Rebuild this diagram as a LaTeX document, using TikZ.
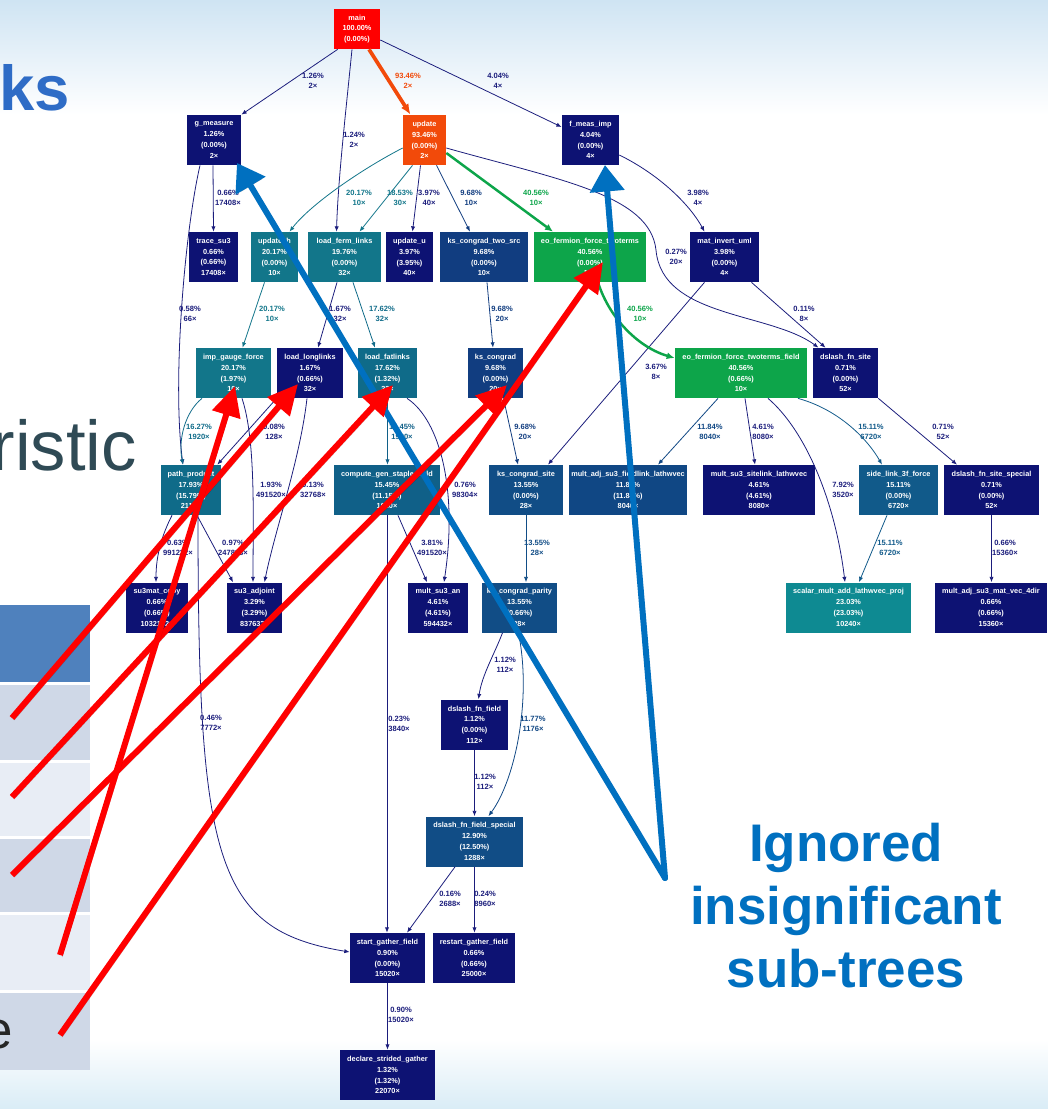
\documentclass[tikz,border=0pt]{standalone}
\usepackage{fontspec}
\setmainfont{Liberation Sans}
\usetikzlibrary{arrows.meta,calc}

% palette
\definecolor{navyfn}{HTML}{0D1273}
\definecolor{navyedge}{HTML}{1B1D7C}
\definecolor{blueten}{HTML}{113D80}
\definecolor{bluetwelve}{HTML}{104784}
\definecolor{bluethirteen}{HTML}{114D86}
\definecolor{bluefifteen}{HTML}{115A8A}
\definecolor{tealfifteen}{HTML}{106088}
\definecolor{tealeighteen}{HTML}{0F6B89}
\definecolor{tealtwenty}{HTML}{12768A}
\definecolor{tealtwentythree}{HTML}{0E8A92}
\definecolor{greenfn}{HTML}{0DA54A}
\definecolor{orangefn}{HTML}{F24A0A}
\definecolor{redfn}{HTML}{FF0000}
\definecolor{callout}{HTML}{0070C0}
\definecolor{marker}{HTML}{FF0000}
\definecolor{skytop}{HTML}{CFE4F3}
\definecolor{skybot}{HTML}{D9ECF6}
\definecolor{hdr}{HTML}{4F81BD}
\definecolor{rowa}{HTML}{CFD8E7}
\definecolor{rowb}{HTML}{E8EDF5}
\definecolor{titleblue}{HTML}{2E6CC6}
\definecolor{slate}{HTML}{2F4A55}

\tikzset{
  fn/.style={fill=navyfn, text=white, font=\fontsize{4.15}{6.1}\selectfont\bfseries,
    align=center, inner sep=0pt, minimum height=50*0.567pt},
  w/.style={minimum width=#1*0.567pt},
  e/.style={navyedge, line width=0.45pt, -{Latex[length=3pt,width=2.4pt]}},
  lbl/.style={navyedge, font=\fontsize{4.3}{5.7}\selectfont\bfseries, align=center, inner sep=0pt},
  drop/.style={preaction={draw=black, opacity=0.22, transform canvas={shift={(1.2pt,-1.2pt)}}}},
  redarrow/.style={marker, line width=3.4pt, -{Triangle[length=17pt,width=16pt]}, drop},
  bluearrow/.style={callout, line width=3.4pt, line cap=round, -{Triangle[length=15pt,width=19pt]}, drop},
}

\begin{document}
\begin{tikzpicture}[x=0.567pt, y=-0.567pt]
\useasboundingbox (0,0) rectangle (1048,1109);

% backdrop
\fill[white] (0,0) rectangle (1048,1109);
\shade[top color=skytop, bottom color=white] (0,0) rectangle (1048,115);
\shade[top color=white, bottom color=skybot] (0,1040) rectangle (1048,1109);

% slide fragments on the left
\node[anchor=base east, inner sep=0pt, text=titleblue, font=\fontsize{36}{36}\selectfont\bfseries] (titlefrag) at (70,110) {ks};
\node[anchor=base east, inner sep=0pt, text=slate, font=\fontsize{40}{40}\selectfont] (bodyfrag) at (137,470) {ristic};
\fill[hdr] (0,605) rectangle (90,682);
\fill[rowa] (0,685) rectangle (90,760);
\fill[rowb] (0,763) rectangle (90,836);
\fill[rowa] (0,839) rectangle (90,912);
\fill[rowb] (0,915) rectangle (90,990);
\fill[rowa] (0,993) rectangle (90,1070);
\node[anchor=base east, inner sep=0pt, text=black!85, font=\fontsize{30}{30}\selectfont] (rowfrag) at (13,1048) {e};

% call-graph nodes
\node[fn, fill=redfn, w=46, minimum height=40*0.567pt] (main) at (357,29) {main\\100.00\%\\(0.00\%)};
\node[fn, w=54] (g_measure) at (214,140) {g\_measure\\1.26\%\\(0.00\%)\\2×};
\node[fn, fill=orangefn, w=43] (update) at (424.5,140) {update\\93.46\%\\(0.00\%)\\2×};
\node[fn, w=57] (f_meas_imp) at (590.5,140) {f\_meas\_imp\\4.04\%\\(0.00\%)\\4×};

\node[fn, w=49] (trace_su3) at (213.5,257) {trace\_su3\\0.66\%\\(0.66\%)\\17408×};
\node[fn, fill=tealtwenty, w=47] (update_h) at (274.5,257) {update\_h\\20.17\%\\(0.00\%)\\10×};
\node[fn, fill=tealtwenty, w=73] (load_ferm_links) at (344.5,257) {load\_ferm\_links\\19.76\%\\(0.00\%)\\32×};
\node[fn, w=47] (update_u) at (409.5,257) {update\_u\\3.97\%\\(3.95\%)\\40×};
\node[fn, fill=blueten, w=88] (ks_congrad_two_src) at (484,257) {ks\_congrad\_two\_src\\9.68\%\\(0.00\%)\\10×};
\node[fn, fill=greenfn, w=112] (eo_twoterms) at (590,257) {eo\_fermion\_force\_twoterms\\40.56\%\\(0.00\%)\\10×};
\node[fn, w=69] (mat_invert_uml) at (724.5,257) {mat\_invert\_uml\\3.98\%\\(0.00\%)\\4×};

\node[fn, fill=tealtwenty, w=75] (imp_gauge_force) at (233.5,373) {imp\_gauge\_force\\20.17\%\\(1.97\%)\\10×};
\node[fn, w=66] (load_longlinks) at (310,373) {load\_longlinks\\1.67\%\\(0.66\%)\\32×};
\node[fn, fill=tealeighteen, w=59] (load_fatlinks) at (387.5,373) {load\_fatlinks\\17.62\%\\(1.32\%)\\32×};
\node[fn, fill=blueten, w=55] (ks_congrad) at (495.5,373) {ks\_congrad\\9.68\%\\(0.00\%)\\20×};
\node[fn, fill=greenfn, w=132] (eo_field) at (741,373) {eo\_fermion\_force\_twoterms\_field\\40.56\%\\(0.66\%)\\10×};
\node[fn, w=65] (dslash_fn_site) at (845.5,373) {dslash\_fn\_site\\0.71\%\\(0.00\%)\\52×};

\node[fn, fill=tealeighteen, w=60] (path_product) at (191,490) {path\_product\\17.93\%\\(15.79\%)\\2114×};
\node[fn, fill=tealfifteen, w=106] (compute_gen) at (387,490) {compute\_gen\_staple\_field\\15.45\%\\(11.15\%)\\1920×};
\node[fn, fill=bluethirteen, w=74] (ks_congrad_site) at (526,490) {ks\_congrad\_site\\13.55\%\\(0.00\%)\\28×};
\node[fn, fill=bluetwelve, w=118] (fieldlink) at (628,490) {mult\_adj\_su3\_fieldlink\_lathwvec\\11.84\%\\(11.84\%)\\8040×};
\node[fn, w=112] (sitelink) at (759,490) {mult\_su3\_sitelink\_lathwvec\\4.61\%\\(4.61\%)\\8080×};
\node[fn, fill=bluefifteen, w=79] (side_link) at (898.5,490) {side\_link\_3f\_force\\15.11\%\\(0.00\%)\\6720×};
\node[fn, w=95] (site_special) at (991.5,490) {dslash\_fn\_site\_special\\0.71\%\\(0.00\%)\\52×};

\node[fn, w=62] (su3mat_copy) at (157,607.5) {su3mat\_copy\\0.66\%\\(0.66\%)\\1032192×};
\node[fn, w=55] (su3_adjoint) at (254.5,607.5) {su3\_adjoint\\3.29\%\\(3.29\%)\\837632×};
\node[fn, w=60] (mult_su3_an) at (438,607.5) {mult\_su3\_an\\4.61\%\\(4.61\%)\\594432×};
\node[fn, fill=bluethirteen, w=75] (parity) at (519.5,607.5) {ks\_congrad\_parity\\13.55\%\\(0.66\%)\\28×};
\node[fn, fill=tealtwentythree, w=125] (scalar) at (848.5,607.5) {scalar\_mult\_add\_lathwvec\_proj\\23.03\%\\(23.03\%)\\10240×};
\node[fn, w=112] (mult4dir) at (991,607.5) {mult\_adj\_su3\_mat\_vec\_4dir\\0.66\%\\(0.66\%)\\15360×};

\node[fn, w=67] (dslash_fn_field) at (474.5,724.5) {dslash\_fn\_field\\1.12\%\\(0.00\%)\\112×};
\node[fn, fill=bluethirteen, w=97] (field_special) at (474.5,841.5) {dslash\_fn\_field\_special\\12.90\%\\(12.50\%)\\1288×};
\node[fn, w=75] (start_gather) at (387.5,958) {start\_gather\_field\\0.90\%\\(0.00\%)\\15020×};
\node[fn, w=82] (restart_gather) at (474,958) {restart\_gather\_field\\0.66\%\\(0.66\%)\\25000×};
\node[fn, w=95] (declare) at (387.5,1075) {declare\_strided\_gather\\1.32\%\\(1.32\%)\\22070×};

% call edges
\draw[e] ($(main.south west)+(4,0)$) -- (g_measure.north east);
\draw[e] ($(main.south)+(-5,0)$) .. controls (346,110) and (338,180) .. ($(load_ferm_links.north)+(-8,0)$);
\draw[e, orangefn, line width=2.1pt, -{Latex[length=6pt,width=5pt]}] ($(main.south)+(12,0)$) -- ($(update.north)+(-14,0)$);
\draw[e] ($(main.east)+(0,11)$) -- ($(f_meas_imp.west)+(0,-13)$);

\draw[e] ($(g_measure.south)+(-1,0)$) -- (trace_su3.north);
\draw[e] ($(g_measure.south)+(-14,0)$) .. controls (185,230) and (172,380) .. ($(path_product.north)+(-8,0)$);
\draw[e, tealtwenty] ($(update.west)+(0,8)$) .. controls (360,170) and (310,205) .. ($(update_h.north)+(15,0)$);
\draw[e, tealtwenty] ($(update.south)+(-12,0)$) -- ($(load_ferm_links.north)+(15,0)$);
\draw[e] ($(update.south)+(-4,0)$) -- ($(update_u.north)+(3,0)$);
\draw[e, blueten] ($(update.south)+(12,0)$) -- ($(ks_congrad_two_src.north)+(-14,0)$);
\draw[e, greenfn, line width=1.4pt, -{Latex[length=4.5pt,width=4pt]}] ($(update.east)+(0,13)$) -- ($(eo_twoterms.north)+(-37,0)$);
\draw[e] ($(update.east)+(0,8)$) .. controls (560,180) and (650,195) .. (656,250) .. controls (662,318) and (770,312) .. ($(dslash_fn_site.north)+(-27,0)$);
\draw[e] ($(f_meas_imp.east)+(0,15)$) .. controls (660,175) and (690,205) .. ($(mat_invert_uml.north)+(-20,0)$);

\draw[e] ($(mat_invert_uml.south)+(-20,0)$) -- ($(ks_congrad_site.north)+(22,0)$);
\draw[e] ($(mat_invert_uml.south)+(27,0)$) -- ($(dslash_fn_site.north)+(-20,0)$);
\draw[e, greenfn, line width=1.4pt, -{Latex[length=4.5pt,width=4pt]}] ($(eo_twoterms.south)+(8,0)$) .. controls (610,320) and (640,348) .. ($(eo_field.west)+(0,-15)$);
\draw[e, tealtwenty] ($(update_h.south)+(-10,0)$) -- ($(imp_gauge_force.north)+(9,0)$);
\draw[e] ($(load_ferm_links.south)+(-7.5,0)$) -- ($(load_longlinks.north)+(8,0)$);
\draw[e, tealeighteen] ($(load_ferm_links.south)+(8.5,0)$) -- ($(load_fatlinks.north)+(-12.5,0)$);
\draw[e, blueten] ($(ks_congrad_two_src.south)+(3,0)$) -- ($(ks_congrad.north)+(-2.5,0)$);

\draw[e, tealeighteen] ($(imp_gauge_force.south)+(-31.5,0)$) .. controls (185,412) and (178,440) .. ($(path_product.north)+(-8,0)$);
\draw[e] (load_longlinks.south west) -- ($(path_product.north east)+(-4,0)$);
\draw[e] ($(imp_gauge_force.south)+(8.5,0)$) .. controls (256,440) and (253,520) .. ($(su3_adjoint.north)+(-1.5,0)$);
\draw[e] ($(load_longlinks.south)+(-3,0)$) .. controls (300,460) and (275,530) .. ($(su3_adjoint.north)+(10,0)$);
\draw[e, tealfifteen] (load_fatlinks.south) -- (load_fatlinks.south |- compute_gen.north);
\draw[e] ($(load_fatlinks.south)+(19.5,0)$) .. controls (440,420) and (458,490) .. ($(mult_su3_an.north)+(6,0)$);
\draw[e, blueten] ($(ks_congrad.south)+(8,0)$) -- ($(ks_congrad_site.north)+(-8,0)$);
\draw[e, bluetwelve] ($(eo_field.south)+(-23,0)$) -- ($(fieldlink.north)+(30,0)$);
\draw[e] ($(eo_field.south)+(4,0)$) -- ($(sitelink.north)+(-4,0)$);
\draw[e] ($(eo_field.south)+(27,0)$) .. controls (805,430) and (835,500) .. ($(scalar.north)+(-3.5,0)$);
\draw[e, bluefifteen] ($(eo_field.south)+(57,0)$) .. controls (840,410) and (868,440) .. ($(side_link.north)+(-16.5,0)$);
\draw[e] (dslash_fn_site.south east) -- ($(site_special.north)+(-34.5,0)$);

\draw[e] ($(path_product.south)+(-19,0)$) .. controls (162,535) and (156,555) .. ($(su3mat_copy.north)+(-1,0)$);
\draw[e] ($(path_product.south)+(6,0)$) -- ($(su3_adjoint.north)+(-21.5,0)$);
\draw[e] ($(path_product.south)+(7,0)$) .. controls (198,860) and (215,930) .. ($(start_gather.west)+(0,-6)$);
\draw[e] ($(compute_gen.south)+(11,0)$) -- ($(mult_su3_an.north)+(-11,0)$);
\draw[e] (compute_gen.south) -- (compute_gen.south |- start_gather.north);
\draw[e, bluethirteen] (ks_congrad_site.south) -- (ks_congrad_site.south |- parity.north);
\draw[e, bluefifteen] ($(side_link.south)+(-11.5,0)$) -- ($(scalar.north)+(10.5,0)$);
\draw[e] (site_special.south) -- (site_special.south |- mult4dir.north);

\draw[e] ($(parity.south)+(-17,0)$) .. controls (494,655) and (482,675) .. ($(dslash_fn_field.north)+(4,0)$);
\draw[e, bluetwelve] ($(parity.south)+(-1,0)$) .. controls (532,700) and (515,780) .. ($(field_special.north)+(14,0)$);
\draw[e] (dslash_fn_field.south) -- (dslash_fn_field.south |- field_special.north);
\draw[e] ($(field_special.south)+(-19.5,0)$) -- ($(start_gather.north)+(19.5,0)$);
\draw[e] (field_special.south) -- (field_special.south |- restart_gather.north);
\draw[e] (start_gather.south) -- (start_gather.south |- declare.north);

% edge labels
\node[lbl] (l01) at (313,81) {1.26\%\\2×};
\node[lbl] (l02) at (354,140) {1.24\%\\2×};
\node[lbl, orangefn] (l03) at (408,81) {93.46\%\\2×};
\node[lbl] (l04) at (498,81) {4.04\%\\4×};
\node[lbl] (l05) at (228,198) {0.66\%\\17408×};
\node[lbl, tealtwenty] (l06) at (359,198) {20.17\%\\10×};
\node[lbl, tealtwenty] (l07) at (400,198) {18.53\%\\30×};
\node[lbl] (l08) at (429,198) {3.97\%\\40×};
\node[lbl, blueten] (l09) at (471,198) {9.68\%\\10×};
\node[lbl, greenfn] (l10) at (536,198) {40.56\%\\10×};
\node[lbl] (l11) at (698,198) {3.98\%\\4×};
\node[lbl] (l12) at (676,257) {0.27\%\\20×};
\node[lbl] (l13) at (190,314) {0.58\%\\66×};
\node[lbl, tealtwenty] (l14) at (272,314) {20.17\%\\10×};
\node[lbl] (l15) at (340,314) {1.67\%\\32×};
\node[lbl, tealeighteen] (l16) at (382,314) {17.62\%\\32×};
\node[lbl, blueten] (l17) at (502,314) {9.68\%\\20×};
\node[lbl, greenfn] (l18) at (640,314) {40.56\%\\10×};
\node[lbl] (l19) at (804,314) {0.11\%\\8×};
\node[lbl] (l20) at (656,372) {3.67\%\\8×};
\node[lbl, tealeighteen] (l21) at (199,432) {16.27\%\\1920×};
\node[lbl] (l22) at (274,432) {0.08\%\\128×};
\node[lbl, tealfifteen] (l23) at (402,432) {15.45\%\\1920×};
\node[lbl, blueten] (l24) at (525,432) {9.68\%\\20×};
\node[lbl, bluetwelve] (l25) at (710,432) {11.84\%\\8040×};
\node[lbl] (l26) at (763,432) {4.61\%\\8080×};
\node[lbl, bluefifteen] (l27) at (871,432) {15.11\%\\6720×};
\node[lbl] (l28) at (943,432) {0.71\%\\52×};
\node[lbl] (l29) at (271,490) {1.93\%\\491520×};
\node[lbl] (l30) at (313,490) {0.13\%\\32768×};
\node[lbl] (l31) at (465,490) {0.76\%\\98304×};
\node[lbl] (l32) at (843,490) {7.92\%\\3520×};
\node[lbl] (l33) at (178,548) {0.63\%\\991232×};
\node[lbl] (l34) at (233,548) {0.97\%\\247808×};
\node[lbl] (l35) at (432,548) {3.81\%\\491520×};
\node[lbl, bluethirteen] (l36) at (537,548) {13.55\%\\28×};
\node[lbl, bluefifteen] (l37) at (890,548) {15.11\%\\6720×};
\node[lbl] (l38) at (1005,548) {0.66\%\\15360×};
\node[lbl] (l39) at (505,665) {1.12\%\\112×};
\node[lbl, bluetwelve] (l40) at (533,724) {11.77\%\\1176×};
\node[lbl] (l41) at (399,724) {0.23\%\\3840×};
\node[lbl] (l42) at (211,723) {0.46\%\\7772×};
\node[lbl] (l43) at (485,782) {1.12\%\\112×};
\node[lbl] (l44) at (450,899) {0.16\%\\2688×};
\node[lbl] (l45) at (485,899) {0.24\%\\8960×};
\node[lbl] (l46) at (401,1015) {0.90\%\\15020×};

% annotation arrows
\coordinate (blueTail) at (665,878);
\coordinate (blueTipG) at (237,163);
\coordinate (blueTipF) at (605,165);
\draw[bluearrow] (blueTail) -- (blueTipG);
\draw[bluearrow] (blueTail) -- (blueTipF);

\coordinate (redTailA) at (12,718);
\coordinate (redTailB) at (12,797);
\coordinate (redTailC) at (12,875);
\coordinate (redTailD) at (60,955);
\coordinate (redTailE) at (60,1035);
\coordinate (redTipLong) at (298,384);
\coordinate (redTipFat) at (393,385);
\coordinate (redTipKs) at (507,385);
\coordinate (redTipImp) at (235,386);
\coordinate (redTipEo) at (603,262);
\draw[redarrow] (redTailA) -- (redTipLong);
\draw[redarrow] (redTailB) -- (redTipFat);
\draw[redarrow] (redTailC) -- (redTipKs);
\draw[redarrow] (redTailD) -- (redTipImp);
\draw[redarrow] (redTailE) -- (redTipEo);

\node[align=center, inner sep=0pt, text=callout, font=\fontsize{30}{35.7}\selectfont\bfseries] (ignored) at (846,906) {Ignored\\insignificant\\sub-trees};
\end{tikzpicture}
\end{document}
